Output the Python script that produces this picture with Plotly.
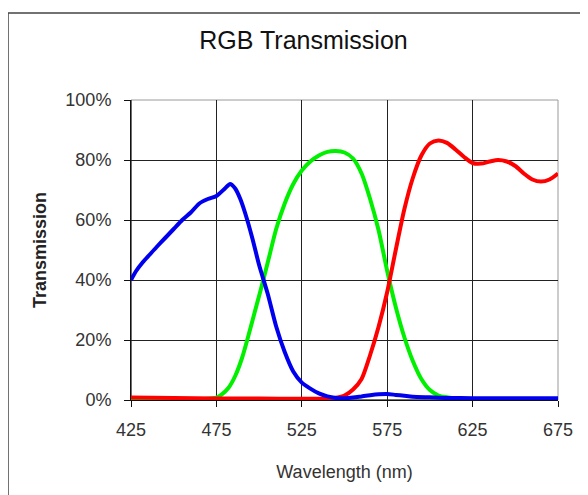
import plotly.graph_objects as go

# ---- data ----
blue_wl = [425, 428, 432, 436, 440, 445, 450, 455, 460, 465, 470, 475, 480, 483, 486, 489,
           492, 496, 500, 505, 510, 515, 520, 525, 530, 535, 540, 545, 550, 555, 560, 565,
           570, 575, 580, 585, 590, 600, 610, 625, 650, 675]
blue_t = [40, 43, 46, 48.5, 51, 54, 57, 60, 62.5, 65.5, 67, 68, 70.5, 72, 70.5, 67,
          62, 54, 45, 35.5, 24.5, 16, 9.5, 5.8, 3.8, 2.2, 1.2, 0.7, 0.6, 0.8, 1.2, 1.6,
          1.9, 2, 1.7, 1.4, 1.1, 0.9, 0.7, 0.6, 0.6, 0.6]

green_wl = [425, 440, 455, 465, 470, 475, 478, 482, 486, 490, 494, 498, 502, 506, 510, 515,
            520, 525, 530, 535, 540, 545, 550, 555, 560, 565, 570, 575, 580, 585, 590, 595,
            600, 605, 610, 615, 625, 650, 675]
green_t = [0.3, 0.3, 0.3, 0.3, 0.4, 0.8, 1.8, 4, 8, 14, 22, 30.5, 39, 48, 57, 65.5,
           72, 76.5, 79.5, 81.5, 82.7, 83, 82.5, 80.5, 75.5, 67, 56.5, 43, 31, 21, 13, 7,
           3.3, 1.5, 0.9, 0.5, 0.3, 0.3, 0.3]

red_wl = [425, 450, 475, 500, 525, 540, 545, 550, 555, 560, 565, 570, 575, 580, 585, 590,
          595, 600, 605, 610, 615, 620, 625, 630, 635, 640, 645, 650, 655, 660, 665, 670, 675]
red_t = [0.8, 0.7, 0.5, 0.5, 0.4, 0.5, 0.8, 1.5, 3.5, 7, 15, 24.5, 36, 50, 63.5, 74,
         81.5, 85.5, 86.5, 85.7, 83.5, 81, 79, 78.8, 79.5, 80, 79.5, 78, 75.5, 73.5, 72.8, 73.5, 75.5]

x_ticks = [425, 475, 525, 575, 625, 675]
y_ticks = [0, 20, 40, 60, 80, 100]

FONT = "Liberation Sans, Arial, Helvetica, sans-serif"

# page body has an 8px margin, so the figure is laid out in a 580x487 box
W, H = 580, 487
L, R, T, B = 123, 30, 92, 95
PW, PH = W - L - R, H - T - B

fig = go.Figure()
fig.add_trace(go.Scatter(x=green_wl, y=green_t, mode="lines", name="Green",
                         line=dict(color="#00f000", width=4, shape="spline", smoothing=0.7)))
fig.add_trace(go.Scatter(x=red_wl, y=red_t, mode="lines", name="Red",
                         line=dict(color="#ff0000", width=4, shape="spline", smoothing=0.7)))
fig.add_trace(go.Scatter(x=blue_wl, y=blue_t, mode="lines", name="Blue",
                         line=dict(color="#0000ee", width=4, shape="spline", smoothing=0.7)))

fig.update_layout(
    width=W, height=H, autosize=False,
    margin=dict(l=L, r=R, t=T, b=B),
    paper_bgcolor="white", plot_bgcolor="white",
    showlegend=False,
    font=dict(family=FONT, color="#333333"),
    title=dict(text="RGB Transmission", x=295.5 / W, xref="container", xanchor="center",
               y=1 - 32 / H, yref="container", yanchor="middle",
               font=dict(size=25, color="#111111", family=FONT)),
)

fig.update_xaxes(
    range=[425, 675], tickvals=x_ticks, ticktext=[str(v) for v in x_ticks],
    showgrid=True, gridcolor="#222222", gridwidth=1,
    showline=True, linecolor="#111111", linewidth=1,
    ticks="outside", ticklen=6, tickcolor="#111111",
    tickfont=dict(size=18, color="#333333"),
    ticklabelstandoff=7,
    title=dict(text="Wavelength (nm)", font=dict(size=18, color="#333333"), standoff=26),
    zeroline=False,
)
fig.update_yaxes(
    range=[0, 100], tickvals=y_ticks, ticktext=[f"{v}%" for v in y_ticks],
    showgrid=True, gridcolor="#222222", gridwidth=1,
    showline=True, linecolor="#111111", linewidth=1,
    ticks="outside", ticklen=6, tickcolor="#111111",
    tickfont=dict(size=18, color="#333333"),
    ticklabelstandoff=9,
    title=dict(text="<b>Transmission</b>", font=dict(size=18, color="#222222"), standoff=14),
    zeroline=False,
)

# light grey plot border at top/right (over the grid, under the curves)
fig.add_shape(type="rect", xref="paper", yref="paper", x0=0, x1=1, y0=0, y1=1,
              line=dict(color="#9a9a9a", width=1), fillcolor="rgba(0,0,0,0)", layer="between")
# re-draw left/bottom black axis edges
fig.add_shape(type="line", xref="paper", yref="paper", x0=0, x1=0, y0=0, y1=1,
              line=dict(color="#111111", width=1), layer="between")
fig.add_shape(type="line", xref="paper", yref="paper", x0=0, x1=1, y0=0, y1=0,
              line=dict(color="#111111", width=1), layer="between")
# outer chart frame (page pixels: left 8, top 13, right 587, below bottom edge)
fig.add_shape(type="rect", xref="paper", yref="paper",
              x0=(0 - L) / PW, x1=(579 - L) / PW,
              y0=(T + PH - 520) / PH, y1=(T + PH - 5) / PH,
              line=dict(color="#444444", width=1.5), fillcolor="rgba(0,0,0,0)", layer="above")

fig.write_html("out.html")
